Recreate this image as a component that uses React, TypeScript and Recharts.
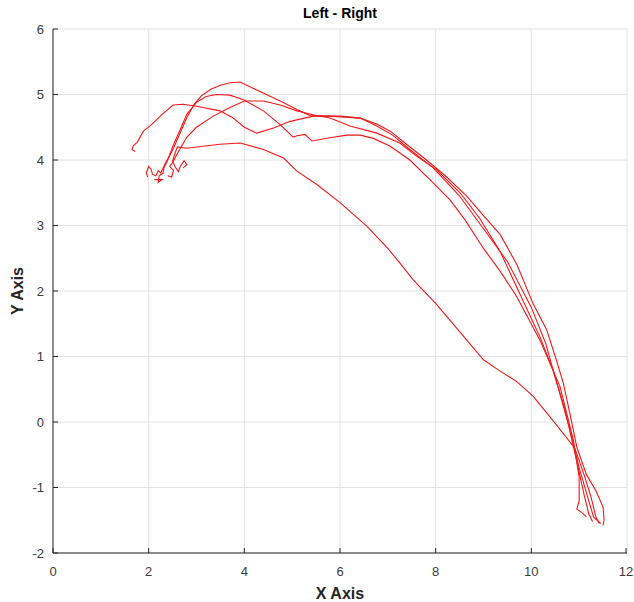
import React from 'react';
import { LineChart, Line, XAxis, YAxis, CartesianGrid } from 'recharts';

type P = { x: number; y: number };
const pts = (a: number[][]): P[] => a.map(([x, y]) => ({ x, y }));

const trialLow: P[] = pts([
  [2.72, 3.88], [2.8, 3.93], [2.74, 3.99], [2.66, 3.9], [2.62, 3.82], [2.55, 3.9], [2.5, 3.98], [2.55, 4.1], [2.6, 4.2],
  [2.79, 4.18], [3.14, 4.21], [3.49, 4.24], [3.91, 4.26], [4.4, 4.16], [4.82, 4.03], [5.1, 3.83], [5.51, 3.63],
  [6.0, 3.35], [6.56, 2.99], [7.0, 2.65], [7.25, 2.43], [7.53, 2.17], [8.0, 1.81], [8.5, 1.38], [9.0, 0.95],
  [9.3, 0.8], [9.69, 0.62], [10.04, 0.39], [10.5, -0.02], [10.91, -0.4], [11.1, -0.8], [11.25, -1.15],
  [11.35, -1.45], [11.42, -1.55],
]);

const trialHook: P[] = pts([
  [1.72, 4.13], [1.65, 4.16], [1.68, 4.22], [1.76, 4.27], [1.89, 4.44], [2.06, 4.54], [2.27, 4.69], [2.51, 4.84],
  [2.72, 4.85], [3.0, 4.82], [3.49, 4.75], [3.75, 4.65], [4.0, 4.5], [4.26, 4.41], [4.61, 4.49], [4.96, 4.59],
  [5.44, 4.67], [6.0, 4.67], [6.42, 4.64], [6.77, 4.55], [7.05, 4.44], [7.39, 4.24], [7.81, 4.0], [8.23, 3.74],
  [8.65, 3.45], [9.0, 3.15], [9.35, 2.86], [9.7, 2.4], [10.04, 1.8], [10.32, 1.41], [10.5, 1.0], [10.67, 0.59],
  [10.8, 0.15], [10.95, -0.38], [11.15, -0.8], [11.35, -1.05], [11.5, -1.3], [11.52, -1.5], [11.5, -1.58],
]);

const trialTop: P[] = pts([
  [1.98, 3.74], [1.95, 3.8], [2.0, 3.9], [2.05, 3.86], [2.08, 3.78], [2.15, 3.76], [2.2, 3.84], [2.25, 3.8],
  [2.35, 3.95], [2.5, 4.15], [2.65, 4.4], [2.8, 4.65], [2.95, 4.85], [3.1, 4.98], [3.3, 5.08], [3.5, 5.14],
  [3.7, 5.18], [3.91, 5.19], [4.26, 5.07], [4.75, 4.9], [5.1, 4.77], [5.37, 4.68], [5.79, 4.67], [6.42, 4.64],
  [6.77, 4.52], [7.1, 4.38], [7.46, 4.16], [7.95, 3.88], [8.5, 3.45], [9.0, 2.95], [9.5, 2.45], [10.0, 1.75],
  [10.3, 1.2], [10.55, 0.55], [10.8, -0.1], [11.0, -0.7], [11.2, -1.2], [11.3, -1.45], [11.45, -1.55],
]);

const trialZig: P[] = pts([
  [2.12, 3.7], [2.28, 3.7], [2.2, 3.66], [2.22, 3.76], [2.3, 3.8], [2.32, 3.88], [2.4, 4.0], [2.5, 4.2],
  [2.65, 4.45], [2.8, 4.7], [3.0, 4.88], [3.2, 4.97], [3.42, 5.0], [3.7, 4.99], [3.98, 4.92], [4.4, 4.75],
  [4.75, 4.54], [5.02, 4.35], [5.1, 4.37], [5.27, 4.39], [5.41, 4.29], [5.79, 4.34], [6.14, 4.38], [6.42, 4.38],
  [6.7, 4.33], [7.05, 4.21], [7.46, 4.0], [7.88, 3.7], [8.3, 3.39], [8.61, 3.09], [9.0, 2.65], [9.35, 2.3],
  [9.69, 1.92], [10.18, 1.25], [10.6, 0.54], [10.88, -0.28], [11.0, -0.85], [11.0, -1.2], [10.95, -1.33],
  [11.05, -1.38], [11.15, -1.45],
]);

const trialMid: P[] = pts([
  [2.4, 3.76], [2.48, 3.74], [2.52, 3.84], [2.44, 3.9], [2.5, 3.96], [2.6, 4.1], [2.8, 4.35], [3.0, 4.5],
  [3.35, 4.67], [3.7, 4.8], [4.0, 4.9], [4.4, 4.9], [4.75, 4.84], [5.1, 4.75], [5.5, 4.68], [5.79, 4.64],
  [6.21, 4.52], [6.77, 4.41], [7.25, 4.26], [7.6, 4.06], [8.02, 3.85], [8.51, 3.5], [8.93, 3.1], [9.35, 2.6],
  [9.7, 2.05], [10.18, 1.3], [10.45, 0.8], [10.7, 0.2], [10.95, -0.6], [11.1, -1.1], [11.2, -1.4], [11.28, -1.52],
]);

const trials: P[][] = [trialLow, trialHook, trialTop, trialZig, trialMid];

const xTicks = [0, 2, 4, 6, 8, 10, 12];
const yTicks = [-2, -1, 0, 1, 2, 3, 4, 5, 6];

const W = 634;
const H = 602;
const LEFT = 53;
const TOP = 29;
const BOTTOM = 553;
const FONT = '"Liberation Sans", Arial, Helvetica, sans-serif';
const AX = '#262626';

const YTick = (props: any) => {
  const { y, payload } = props;
  return (
    <g>
      <line x1={LEFT} x2={LEFT + 5} y1={y} y2={y} stroke={AX} strokeWidth={1} />
      <text x={LEFT - 9} y={y + 4.5} textAnchor="end" fontSize={13} fill="#3a3a3a" fontFamily={FONT}>
        {payload.value}
      </text>
    </g>
  );
};

const XTick = (props: any) => {
  const { x, payload } = props;
  return (
    <g>
      <line x1={x} x2={x} y1={BOTTOM} y2={BOTTOM - 5} stroke={AX} strokeWidth={1} />
      <text x={x} y={BOTTOM + 23} textAnchor="middle" fontSize={13} fill="#3a3a3a" fontFamily={FONT}>
        {payload.value}
      </text>
    </g>
  );
};

export default function App() {
  return (
    <div style={{ position: 'absolute', left: 0, top: 0, width: W, height: H, background: '#fff' }}>
      <LineChart width={W} height={H} margin={{ top: TOP, right: 7, bottom: 0, left: 0 }}>
        <CartesianGrid stroke="#e2e2e2" strokeWidth={1} />
        <XAxis
          type="number"
          dataKey="x"
          domain={[0, 12]}
          ticks={xTicks}
          allowDataOverflow
          height={H - BOTTOM}
          stroke={AX}
          tickLine={false}
          tickSize={0}
          tick={<XTick />}
        />
        <YAxis
          type="number"
          dataKey="y"
          domain={[-2, 6]}
          ticks={yTicks}
          allowDataOverflow
          width={LEFT}
          stroke={AX}
          tickLine={false}
          tickSize={0}
          tick={<YTick />}
        />
        {trials.map((d, i) => (
          <Line
            key={i}
            data={d}
            dataKey="y"
            type="linear"
            stroke="#f01818"
            strokeWidth={1.1}
            dot={false}
            activeDot={false}
            isAnimationActive={false}
          />
        ))}
      </LineChart>
      <svg width={W} height={H} style={{ position: 'absolute', left: 0, top: 0, pointerEvents: 'none' }}>
        <text x={340} y={18} textAnchor="middle" fontSize={14} fontWeight="bold" fill="#000" fontFamily={FONT}>
          Left - Right
        </text>
        <text x={340} y={599} textAnchor="middle" fontSize={16} fontWeight="bold" fill={AX} fontFamily={FONT}>
          X Axis
        </text>
        <text
          x={0}
          y={0}
          transform="translate(23 291) rotate(-90)"
          textAnchor="middle"
          fontSize={16}
          fontWeight="bold"
          fill={AX}
          fontFamily={FONT}
        >
          Y Axis
        </text>
      </svg>
    </div>
  );
}
